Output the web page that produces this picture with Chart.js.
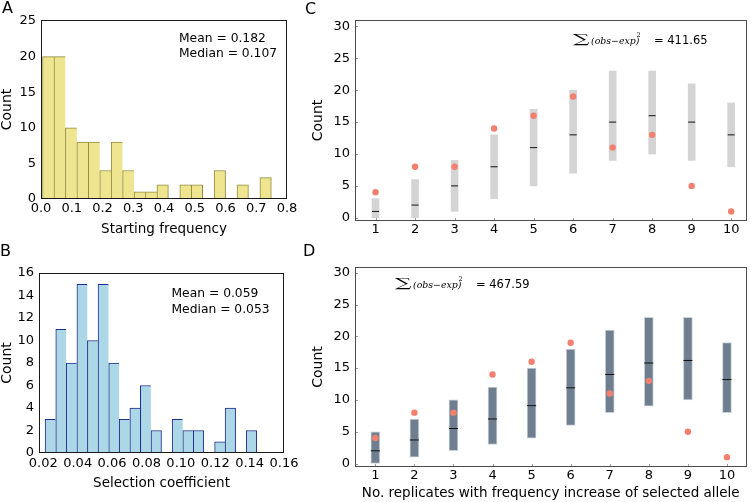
<!DOCTYPE html>
<html><head><meta charset="utf-8">
<script src="https://cdn.jsdelivr.net/npm/chart.js@4.4.1/dist/chart.umd.min.js"></script>
<style>
html,body{margin:0;padding:0;background:#fff;}
body{width:752px;height:502px;position:relative;overflow:hidden;font-family:'DejaVu Sans',sans-serif;color:#000;}
canvas{position:absolute;}
.t{position:absolute;white-space:nowrap;line-height:1;}
.lbl{font-size:16px;}
.ann{font-size:12.3px;}
.sig{font-family:'DejaVu Serif',serif;font-size:15px;transform-origin:0 50%;transform:scale(1.55,0.85);}
.ital{font-family:'DejaVu Serif',serif;font-style:italic;font-size:9.4px;}
.sup{font-family:'DejaVu Serif',serif;font-size:6.5px;}
.eq{font-size:11.5px;}
</style></head><body>
<canvas id="cA" width="300" height="245" style="left:0;top:0"></canvas>
<canvas id="cB" width="300" height="257" style="left:0;top:245px"></canvas>
<canvas id="cC" width="452" height="245" style="left:300px;top:0"></canvas>
<canvas id="cD" width="452" height="257" style="left:300px;top:245px"></canvas>

<div class="t lbl" style="left:2px;top:0px">A</div>
<div class="t lbl" style="left:0px;top:243px">B</div>
<div class="t lbl" style="left:305px;top:1px">C</div>
<div class="t lbl" style="left:303px;top:243px">D</div>

<div class="t ann" style="left:179px;top:32px">Mean = 0.182</div>
<div class="t ann" style="left:179px;top:46.5px">Median = 0.107</div>
<div class="t ann" style="left:171.5px;top:286.5px">Mean = 0.059</div>
<div class="t ann" style="left:171.5px;top:303px">Median = 0.053</div>

<div class="t sig" style="left:573px;top:32px">∑</div>
<div class="t ital" style="left:591px;top:36px">(obs−exp)</div>
<div class="t sup" style="left:636.5px;top:32px">2</div>
<div class="t eq" style="left:654px;top:34.5px">= 411.65</div>

<div class="t sig" style="left:395px;top:276px">∑</div>
<div class="t ital" style="left:413px;top:280px">(obs−exp)</div>
<div class="t sup" style="left:458.5px;top:276px">2</div>
<div class="t eq" style="left:476px;top:278.5px">= 467.59</div>

<script>
// ---------- Panel A: starting frequency histogram ----------
const aBinCenters = [0.0236, 0.0608, 0.0980, 0.1352, 0.1724, 0.2096, 0.2468, 0.2840, 0.3212, 0.3584,
                     0.3956, 0.4328, 0.4700, 0.5072, 0.5444, 0.5816, 0.6188, 0.6560, 0.6932, 0.7304];
const aCounts = [20, 20, 10, 8, 8, 4, 8, 4, 1, 1, 2, 0, 2, 2, 0, 4, 0, 2, 0, 3];
const aXTicks = [0, 0.1, 0.2, 0.3, 0.4, 0.5, 0.6, 0.7, 0.8];
const aYTicks = [0, 5, 10, 15, 20, 25];

// ---------- Panel B: selection coefficient histogram ----------
const bBinCenters = [0.0241, 0.0303, 0.0364, 0.0426, 0.0487, 0.0549, 0.0611, 0.0672, 0.0734, 0.0795,
                     0.0857, 0.0919, 0.0980, 0.1042, 0.1103, 0.1165, 0.1227, 0.1288, 0.1350, 0.1411];
const bCounts = [3, 11, 8, 15, 10, 15, 8, 3, 4, 6, 2, 0, 3, 2, 2, 0, 1, 4, 0, 2];
const bXTicks = [0.02, 0.04, 0.06, 0.08, 0.10, 0.12, 0.14, 0.16];
const bYTicks = [0, 2, 4, 6, 8, 10, 12, 14, 16];

// ---------- Panels C & D ----------
const replicates = [1, 2, 3, 4, 5, 6, 7, 8, 9, 10];
const observed = [4, 8, 8, 14, 16, 19, 11, 13, 5, 1];
const cLow = [0, 0, 1, 3, 5, 7, 9, 10, 9, 8];
const cHigh = [3, 6, 9, 13, 17, 20, 23, 23, 21, 18];
const cMedian = [1, 2, 5, 8, 11, 13, 15, 16, 15, 13];
const dLow = [0, 1, 2, 3, 4, 6, 8, 9, 10, 8];
const dHigh = [5, 7, 10, 12, 15, 18, 21, 23, 23, 19];
const dMedian = [2, 3.7, 5.5, 7, 9.1, 11.9, 14, 15.8, 16.2, 13.2];
const countTicks = [0, 5, 10, 15, 20, 25, 30];

Chart.defaults.font.family = "'DejaVu Sans', sans-serif";
Chart.defaults.color = '#000';
Chart.defaults.animation = false;

function framePlugin(color, tickColor, tickLen) {
  return {
    id: 'frame',
    afterDatasetsDraw(chart) {
      const {ctx, chartArea: {left, top, right, bottom}} = chart;
      ctx.save();
      if (tickLen) {
        ctx.strokeStyle = tickColor; ctx.lineWidth = 1;
        const ys = chart.scales.y, xs = chart.scales.x;
        ys.ticks.forEach(t => {
          const py = Math.round(ys.getPixelForValue(t.value)) + 0.5;
          ctx.beginPath(); ctx.moveTo(left, py); ctx.lineTo(left + tickLen, py); ctx.stroke();
        });
        xs.ticks.forEach(t => {
          const px = Math.round(xs.getPixelForValue(t.value)) + 0.5;
          ctx.beginPath(); ctx.moveTo(px, bottom); ctx.lineTo(px, bottom - tickLen); ctx.stroke();
        });
      }
      ctx.strokeStyle = color; ctx.lineWidth = 1;
      ctx.strokeRect(Math.round(left) + 0.5, Math.round(top) + 0.5,
                     Math.round(right - left) - 1, Math.round(bottom - top) - 1);
      ctx.restore();
    }
  };
}

function fixedAxis(size, isX, ticksArr) {
  return {
    afterFit(s) {
      if (isX) s.height = size; else s.width = size;
      s.paddingLeft = 0; s.paddingRight = 0; s.paddingTop = 0; s.paddingBottom = 0;
    },
    afterBuildTicks(s) { s.ticks = ticksArr.map(v => ({value: v})); }
  };
}

function axis(opts) {
  const {min, max, ticksArr, size, isX, fmt, tickPad, title, titleSize, titlePad} = opts;
  const f = fixedAxis(size, isX, ticksArr);
  return {
    type: 'linear', min, max, offset: false,
    grid: {display: false, drawTicks: false},
    border: {display: false},
    afterFit: f.afterFit, afterBuildTicks: f.afterBuildTicks,
    ticks: {font: {size: 13}, padding: tickPad, autoSkip: false, maxRotation: 0, minRotation: 0,
            callback: fmt},
    title: title ? {display: true, text: title, font: {size: titleSize, lineHeight: 1}, padding: titlePad} : {display: false}
  };
}

function histBorder(counts) {
  return ctx => {
    const i = ctx.dataIndex;
    if (!counts[i]) return 0;
    const nextEmpty = i === counts.length - 1 || !counts[i + 1];
    return {top: 1, left: 1, right: nextEmpty ? 1 : 0, bottom: 0};
  };
}

function histChart(id, centers, counts, fill, edge, pad, xo, yo) {
  return new Chart(document.getElementById(id), {
    type: 'bar',
    data: {datasets: [{
      data: centers.map((c, i) => ({x: c, y: counts[i]})),
      backgroundColor: fill, borderColor: edge, borderWidth: histBorder(counts),
      barPercentage: 1, categoryPercentage: 1
    }]},
    options: {
      responsive: false, events: [],
      layout: {padding: pad},
      plugins: {legend: {display: false}, tooltip: {enabled: false}},
      scales: {x: axis(xo), y: axis(yo)}
    },
    plugins: [framePlugin('#1a1a1a')]
  });
}

histChart('cA', aBinCenters, aCounts, '#efe590', '#8f8c3c',
  {top: 20, right: 13, left: 0, bottom: 0},
  {min: 0, max: 0.8, ticksArr: aXTicks, size: 46, isX: true, fmt: v => v.toFixed(1), tickPad: 2,
   title: 'Starting frequency', titleSize: 13.5, titlePad: {top: 0, bottom: 9}},
  {min: 0, max: 25.15, ticksArr: aYTicks, size: 41, isX: false, fmt: v => String(v), tickPad: 5,
   title: 'Count', titleSize: 14, titlePad: {top: 0, bottom: 0}});

histChart('cB', bBinCenters, bCounts, '#abd7e6', '#1f2c8c',
  {top: 28, right: 16, left: 0, bottom: 0},
  {min: 0.0175, max: 0.16, ticksArr: bXTicks, size: 49, isX: true, fmt: v => v.toFixed(2), tickPad: 3,
   title: 'Selection coefficient', titleSize: 13.5, titlePad: {top: 0, bottom: 12}},
  {min: 0, max: 16, ticksArr: bYTicks, size: 39, isX: false, fmt: v => String(v), tickPad: 5,
   title: 'Count', titleSize: 14, titlePad: {top: 0, bottom: 0}});

function rangeChart(id, low, high, median, barColor, barEdge, barW, medR, pad, xo, yo) {
  return new Chart(document.getElementById(id), {
    type: 'bar',
    data: {datasets: [
      {type: 'scatter', order: 0, data: replicates.map((r, i) => ({x: r, y: observed[i]})),
       backgroundColor: '#f3806f', borderWidth: 0, pointRadius: 3.2, showLine: false},
      {type: 'scatter', order: 1, data: replicates.map((r, i) => ({x: r, y: median[i]})),
       pointStyle: 'line', pointRadius: medR, borderColor: '#111', borderWidth: 1, showLine: false},
      {type: 'bar', order: 2, data: replicates.map((r, i) => ({x: r, y: [low[i], high[i]]})),
       backgroundColor: barColor, borderColor: barEdge, borderWidth: barEdge ? 1 : 0,
       borderSkipped: false, barThickness: barW}
    ]},
    options: {
      responsive: false, events: [],
      layout: {padding: pad},
      plugins: {legend: {display: false}, tooltip: {enabled: false}},
      scales: {x: axis(xo), y: axis(yo)}
    },
    plugins: [framePlugin('#4a4a4a', '#999', 3)]
  });
}

rangeChart('cC', cLow, cHigh, cMedian, '#d4d4d4', null, 7, 3.5,
  {top: 20, right: 5, left: 0, bottom: 0},
  {min: 0.48, max: 10.4, ticksArr: replicates, size: 24, isX: true, fmt: v => String(v), tickPad: 1},
  {min: -0.5, max: 31, ticksArr: countTicks, size: 55, isX: false, fmt: v => String(v), tickPad: 5,
   title: 'Count', titleSize: 14, titlePad: {top: 11, bottom: 0}});

rangeChart('cD', dLow, dHigh, dMedian, '#6f7f90', '#c8d1da', 9, 4.5,
  {top: 22, right: 0, left: 0, bottom: 0},
  {min: 0.48, max: 10.5, ticksArr: replicates, size: 35, isX: true, fmt: v => String(v), tickPad: 1,
   title: 'No. replicates with frequency increase of selected allele', titleSize: 13.5, titlePad: {top: 0, bottom: 2}},
  {min: -0.55, max: 30.9, ticksArr: countTicks, size: 55, isX: false, fmt: v => String(v), tickPad: 5,
   title: 'Count', titleSize: 14, titlePad: {top: 11, bottom: 0}});
</script>
</body></html>
